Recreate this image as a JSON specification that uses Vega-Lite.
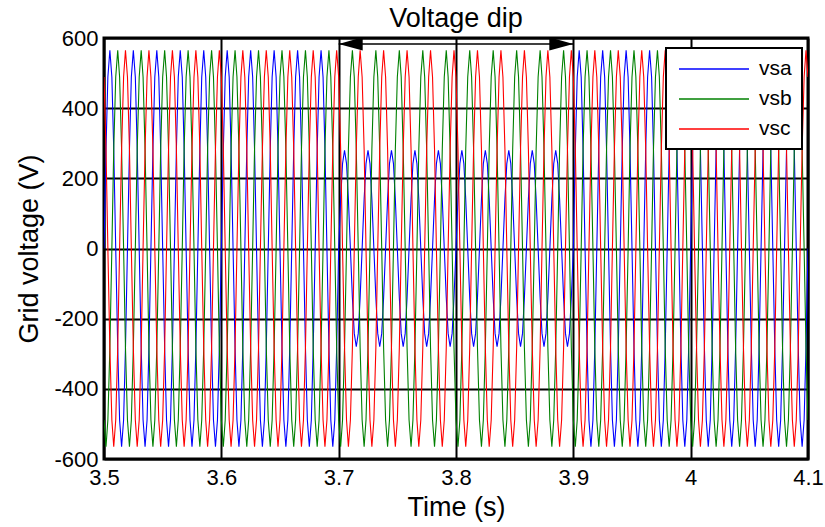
{
"$schema":"https://vega.github.io/schema/vega-lite/v6.json",
"width":704,"height":421,
"autosize":{"type":"none"},
"padding":{"left":104,"top":38,"right":17,"bottom":68},
"background":"white",
"title":{"text":"Voltage dip","fontSize":27,"font":"Liberation Sans","fontWeight":"normal","color":"black","anchor":"middle","offset":-6},
"config":{
 "view":{"stroke":"black","strokeWidth":3},
 "axis":{"grid":true,"gridColor":"black","gridWidth":2,"gridOpacity":1,"domain":false,"ticks":false,"labelFont":"Liberation Sans","labelFontSize":22,"labelColor":"black","titleFont":"Liberation Sans","titleFontSize":27,"titleFontWeight":"normal","titleColor":"black","zindex":1,"labelFlush":false,"labelOverlap":false,"labelBound":false,"labelExpr":"'' + datum.value"},
 "legend":{"orient":"none","legendX":562,"legendY":10,"title":null,"symbolType":"M-0.8,0H6.2","symbolSize":400,"symbolStrokeWidth":1.3,"labelFontSize":21,"labelFont":"Liberation Sans","labelColor":"black","labelOffset":61,"padding":10,"rowPadding":9,"strokeColor":"black","strokeWidth":2,"fillColor":"white","zindex":2}
},
"layer":[
{"data":{"values":[
{"t":3.5,"a":0,"b":-489,"c":489},{"t":3.5017,"a":283,"b":-565,"c":283},{"t":3.5033,"a":489,"b":-489,"c":0},{"t":3.505,"a":565,"b":-283,"c":-283},{"t":3.5067,"a":489,"b":0,"c":-489},{"t":3.5083,"a":283,"b":283,"c":-565},{"t":3.51,"a":0,"b":489,"c":-489},{"t":3.5117,"a":-283,"b":565,"c":-283},{"t":3.5133,"a":-489,"b":489,"c":0},{"t":3.515,"a":-565,"b":283,"c":283},{"t":3.5167,"a":-489,"b":0,"c":489},{"t":3.5183,"a":-283,"b":-283,"c":565},
{"t":3.52,"a":0,"b":-489,"c":489},{"t":3.5217,"a":283,"b":-565,"c":283},{"t":3.5233,"a":489,"b":-489,"c":0},{"t":3.525,"a":565,"b":-283,"c":-283},{"t":3.5267,"a":489,"b":0,"c":-489},{"t":3.5283,"a":283,"b":283,"c":-565},{"t":3.53,"a":0,"b":489,"c":-489},{"t":3.5317,"a":-283,"b":565,"c":-283},{"t":3.5333,"a":-489,"b":489,"c":0},{"t":3.535,"a":-565,"b":283,"c":283},{"t":3.5367,"a":-489,"b":0,"c":489},{"t":3.5383,"a":-283,"b":-283,"c":565},
{"t":3.54,"a":0,"b":-489,"c":489},{"t":3.5417,"a":283,"b":-565,"c":283},{"t":3.5433,"a":489,"b":-489,"c":0},{"t":3.545,"a":565,"b":-283,"c":-283},{"t":3.5467,"a":489,"b":0,"c":-489},{"t":3.5483,"a":283,"b":283,"c":-565},{"t":3.55,"a":0,"b":489,"c":-489},{"t":3.5517,"a":-283,"b":565,"c":-283},{"t":3.5533,"a":-489,"b":489,"c":0},{"t":3.555,"a":-565,"b":283,"c":283},{"t":3.5567,"a":-489,"b":0,"c":489},{"t":3.5583,"a":-283,"b":-283,"c":565},
{"t":3.56,"a":0,"b":-489,"c":489},{"t":3.5617,"a":283,"b":-565,"c":283},{"t":3.5633,"a":489,"b":-489,"c":0},{"t":3.565,"a":565,"b":-283,"c":-283},{"t":3.5667,"a":489,"b":0,"c":-489},{"t":3.5683,"a":283,"b":283,"c":-565},{"t":3.57,"a":0,"b":489,"c":-489},{"t":3.5717,"a":-283,"b":565,"c":-283},{"t":3.5733,"a":-489,"b":489,"c":0},{"t":3.575,"a":-565,"b":283,"c":283},{"t":3.5767,"a":-489,"b":0,"c":489},{"t":3.5783,"a":-283,"b":-283,"c":565},
{"t":3.58,"a":0,"b":-489,"c":489},{"t":3.5817,"a":283,"b":-565,"c":283},{"t":3.5833,"a":489,"b":-489,"c":0},{"t":3.585,"a":565,"b":-283,"c":-283},{"t":3.5867,"a":489,"b":0,"c":-489},{"t":3.5883,"a":283,"b":283,"c":-565},{"t":3.59,"a":0,"b":489,"c":-489},{"t":3.5917,"a":-283,"b":565,"c":-283},{"t":3.5933,"a":-489,"b":489,"c":0},{"t":3.595,"a":-565,"b":283,"c":283},{"t":3.5967,"a":-489,"b":0,"c":489},{"t":3.5983,"a":-283,"b":-283,"c":565},
{"t":3.6,"a":0,"b":-489,"c":489},{"t":3.6017,"a":283,"b":-565,"c":283},{"t":3.6033,"a":489,"b":-489,"c":0},{"t":3.605,"a":565,"b":-283,"c":-283},{"t":3.6067,"a":489,"b":0,"c":-489},{"t":3.6083,"a":283,"b":283,"c":-565},{"t":3.61,"a":0,"b":489,"c":-489},{"t":3.6117,"a":-283,"b":565,"c":-283},{"t":3.6133,"a":-489,"b":489,"c":0},{"t":3.615,"a":-565,"b":283,"c":283},{"t":3.6167,"a":-489,"b":0,"c":489},{"t":3.6183,"a":-283,"b":-283,"c":565},
{"t":3.62,"a":0,"b":-489,"c":489},{"t":3.6217,"a":283,"b":-565,"c":283},{"t":3.6233,"a":489,"b":-489,"c":0},{"t":3.625,"a":565,"b":-283,"c":-283},{"t":3.6267,"a":489,"b":0,"c":-489},{"t":3.6283,"a":283,"b":283,"c":-565},{"t":3.63,"a":0,"b":489,"c":-489},{"t":3.6317,"a":-283,"b":565,"c":-283},{"t":3.6333,"a":-489,"b":489,"c":0},{"t":3.635,"a":-565,"b":283,"c":283},{"t":3.6367,"a":-489,"b":0,"c":489},{"t":3.6383,"a":-283,"b":-283,"c":565},
{"t":3.64,"a":0,"b":-489,"c":489},{"t":3.6417,"a":283,"b":-565,"c":283},{"t":3.6433,"a":489,"b":-489,"c":0},{"t":3.645,"a":565,"b":-283,"c":-283},{"t":3.6467,"a":489,"b":0,"c":-489},{"t":3.6483,"a":283,"b":283,"c":-565},{"t":3.65,"a":0,"b":489,"c":-489},{"t":3.6517,"a":-283,"b":565,"c":-283},{"t":3.6533,"a":-489,"b":489,"c":0},{"t":3.655,"a":-565,"b":283,"c":283},{"t":3.6567,"a":-489,"b":0,"c":489},{"t":3.6583,"a":-283,"b":-283,"c":565},
{"t":3.66,"a":0,"b":-489,"c":489},{"t":3.6617,"a":283,"b":-565,"c":283},{"t":3.6633,"a":489,"b":-489,"c":0},{"t":3.665,"a":565,"b":-283,"c":-283},{"t":3.6667,"a":489,"b":0,"c":-489},{"t":3.6683,"a":283,"b":283,"c":-565},{"t":3.67,"a":0,"b":489,"c":-489},{"t":3.6717,"a":-283,"b":565,"c":-283},{"t":3.6733,"a":-489,"b":489,"c":0},{"t":3.675,"a":-565,"b":283,"c":283},{"t":3.6767,"a":-489,"b":0,"c":489},{"t":3.6783,"a":-283,"b":-283,"c":565},
{"t":3.68,"a":0,"b":-489,"c":489},{"t":3.6817,"a":283,"b":-565,"c":283},{"t":3.6833,"a":489,"b":-489,"c":0},{"t":3.685,"a":565,"b":-283,"c":-283},{"t":3.6867,"a":489,"b":0,"c":-489},{"t":3.6883,"a":283,"b":283,"c":-565},{"t":3.69,"a":0,"b":489,"c":-489},{"t":3.6917,"a":-283,"b":565,"c":-283},{"t":3.6933,"a":-489,"b":489,"c":0},{"t":3.695,"a":-565,"b":283,"c":283},{"t":3.6967,"a":-489,"b":0,"c":489},{"t":3.6983,"a":-283,"b":-283,"c":565},
{"t":3.7,"a":0,"b":-489,"c":489},{"t":3.7017,"a":140,"b":-565,"c":283},{"t":3.7033,"a":242,"b":-489,"c":0},{"t":3.705,"a":280,"b":-283,"c":-283},{"t":3.7067,"a":242,"b":0,"c":-489},{"t":3.7083,"a":140,"b":283,"c":-565},{"t":3.71,"a":0,"b":489,"c":-489},{"t":3.7117,"a":-140,"b":565,"c":-283},{"t":3.7133,"a":-242,"b":489,"c":0},{"t":3.715,"a":-280,"b":283,"c":283},{"t":3.7167,"a":-242,"b":0,"c":489},{"t":3.7183,"a":-140,"b":-283,"c":565},
{"t":3.72,"a":0,"b":-489,"c":489},{"t":3.7217,"a":140,"b":-565,"c":283},{"t":3.7233,"a":242,"b":-489,"c":0},{"t":3.725,"a":280,"b":-283,"c":-283},{"t":3.7267,"a":242,"b":0,"c":-489},{"t":3.7283,"a":140,"b":283,"c":-565},{"t":3.73,"a":0,"b":489,"c":-489},{"t":3.7317,"a":-140,"b":565,"c":-283},{"t":3.7333,"a":-242,"b":489,"c":0},{"t":3.735,"a":-280,"b":283,"c":283},{"t":3.7367,"a":-242,"b":0,"c":489},{"t":3.7383,"a":-140,"b":-283,"c":565},
{"t":3.74,"a":0,"b":-489,"c":489},{"t":3.7417,"a":140,"b":-565,"c":283},{"t":3.7433,"a":242,"b":-489,"c":0},{"t":3.745,"a":280,"b":-283,"c":-283},{"t":3.7467,"a":242,"b":0,"c":-489},{"t":3.7483,"a":140,"b":283,"c":-565},{"t":3.75,"a":0,"b":489,"c":-489},{"t":3.7517,"a":-140,"b":565,"c":-283},{"t":3.7533,"a":-242,"b":489,"c":0},{"t":3.755,"a":-280,"b":283,"c":283},{"t":3.7567,"a":-242,"b":0,"c":489},{"t":3.7583,"a":-140,"b":-283,"c":565},
{"t":3.76,"a":0,"b":-489,"c":489},{"t":3.7617,"a":140,"b":-565,"c":283},{"t":3.7633,"a":242,"b":-489,"c":0},{"t":3.765,"a":280,"b":-283,"c":-283},{"t":3.7667,"a":242,"b":0,"c":-489},{"t":3.7683,"a":140,"b":283,"c":-565},{"t":3.77,"a":0,"b":489,"c":-489},{"t":3.7717,"a":-140,"b":565,"c":-283},{"t":3.7733,"a":-242,"b":489,"c":0},{"t":3.775,"a":-280,"b":283,"c":283},{"t":3.7767,"a":-242,"b":0,"c":489},{"t":3.7783,"a":-140,"b":-283,"c":565},
{"t":3.78,"a":0,"b":-489,"c":489},{"t":3.7817,"a":140,"b":-565,"c":283},{"t":3.7833,"a":242,"b":-489,"c":0},{"t":3.785,"a":280,"b":-283,"c":-283},{"t":3.7867,"a":242,"b":0,"c":-489},{"t":3.7883,"a":140,"b":283,"c":-565},{"t":3.79,"a":0,"b":489,"c":-489},{"t":3.7917,"a":-140,"b":565,"c":-283},{"t":3.7933,"a":-242,"b":489,"c":0},{"t":3.795,"a":-280,"b":283,"c":283},{"t":3.7967,"a":-242,"b":0,"c":489},{"t":3.7983,"a":-140,"b":-283,"c":565},
{"t":3.8,"a":0,"b":-489,"c":489},{"t":3.8017,"a":140,"b":-565,"c":283},{"t":3.8033,"a":242,"b":-489,"c":0},{"t":3.805,"a":280,"b":-283,"c":-283},{"t":3.8067,"a":242,"b":0,"c":-489},{"t":3.8083,"a":140,"b":283,"c":-565},{"t":3.81,"a":0,"b":489,"c":-489},{"t":3.8117,"a":-140,"b":565,"c":-283},{"t":3.8133,"a":-242,"b":489,"c":0},{"t":3.815,"a":-280,"b":283,"c":283},{"t":3.8167,"a":-242,"b":0,"c":489},{"t":3.8183,"a":-140,"b":-283,"c":565},
{"t":3.82,"a":0,"b":-489,"c":489},{"t":3.8217,"a":140,"b":-565,"c":283},{"t":3.8233,"a":242,"b":-489,"c":0},{"t":3.825,"a":280,"b":-283,"c":-283},{"t":3.8267,"a":242,"b":0,"c":-489},{"t":3.8283,"a":140,"b":283,"c":-565},{"t":3.83,"a":0,"b":489,"c":-489},{"t":3.8317,"a":-140,"b":565,"c":-283},{"t":3.8333,"a":-242,"b":489,"c":0},{"t":3.835,"a":-280,"b":283,"c":283},{"t":3.8367,"a":-242,"b":0,"c":489},{"t":3.8383,"a":-140,"b":-283,"c":565},
{"t":3.84,"a":0,"b":-489,"c":489},{"t":3.8417,"a":140,"b":-565,"c":283},{"t":3.8433,"a":242,"b":-489,"c":0},{"t":3.845,"a":280,"b":-283,"c":-283},{"t":3.8467,"a":242,"b":0,"c":-489},{"t":3.8483,"a":140,"b":283,"c":-565},{"t":3.85,"a":0,"b":489,"c":-489},{"t":3.8517,"a":-140,"b":565,"c":-283},{"t":3.8533,"a":-242,"b":489,"c":0},{"t":3.855,"a":-280,"b":283,"c":283},{"t":3.8567,"a":-242,"b":0,"c":489},{"t":3.8583,"a":-140,"b":-283,"c":565},
{"t":3.86,"a":0,"b":-489,"c":489},{"t":3.8617,"a":140,"b":-565,"c":283},{"t":3.8633,"a":242,"b":-489,"c":0},{"t":3.865,"a":280,"b":-283,"c":-283},{"t":3.8667,"a":242,"b":0,"c":-489},{"t":3.8683,"a":140,"b":283,"c":-565},{"t":3.87,"a":0,"b":489,"c":-489},{"t":3.8717,"a":-140,"b":565,"c":-283},{"t":3.8733,"a":-242,"b":489,"c":0},{"t":3.875,"a":-280,"b":283,"c":283},{"t":3.8767,"a":-242,"b":0,"c":489},{"t":3.8783,"a":-140,"b":-283,"c":565},
{"t":3.88,"a":0,"b":-489,"c":489},{"t":3.8817,"a":140,"b":-565,"c":283},{"t":3.8833,"a":242,"b":-489,"c":0},{"t":3.885,"a":280,"b":-283,"c":-283},{"t":3.8867,"a":242,"b":0,"c":-489},{"t":3.8883,"a":140,"b":283,"c":-565},{"t":3.89,"a":0,"b":489,"c":-489},{"t":3.8917,"a":-140,"b":565,"c":-283},{"t":3.8933,"a":-242,"b":489,"c":0},{"t":3.895,"a":-280,"b":283,"c":283},{"t":3.8967,"a":-242,"b":0,"c":489},{"t":3.8983,"a":-140,"b":-283,"c":565},
{"t":3.9,"a":0,"b":-489,"c":489},{"t":3.9017,"a":283,"b":-565,"c":283},{"t":3.9033,"a":489,"b":-489,"c":0},{"t":3.905,"a":565,"b":-283,"c":-283},{"t":3.9067,"a":489,"b":0,"c":-489},{"t":3.9083,"a":283,"b":283,"c":-565},{"t":3.91,"a":0,"b":489,"c":-489},{"t":3.9117,"a":-283,"b":565,"c":-283},{"t":3.9133,"a":-489,"b":489,"c":0},{"t":3.915,"a":-565,"b":283,"c":283},{"t":3.9167,"a":-489,"b":0,"c":489},{"t":3.9183,"a":-283,"b":-283,"c":565},
{"t":3.92,"a":0,"b":-489,"c":489},{"t":3.9217,"a":283,"b":-565,"c":283},{"t":3.9233,"a":489,"b":-489,"c":0},{"t":3.925,"a":565,"b":-283,"c":-283},{"t":3.9267,"a":489,"b":0,"c":-489},{"t":3.9283,"a":283,"b":283,"c":-565},{"t":3.93,"a":0,"b":489,"c":-489},{"t":3.9317,"a":-283,"b":565,"c":-283},{"t":3.9333,"a":-489,"b":489,"c":0},{"t":3.935,"a":-565,"b":283,"c":283},{"t":3.9367,"a":-489,"b":0,"c":489},{"t":3.9383,"a":-283,"b":-283,"c":565},
{"t":3.94,"a":0,"b":-489,"c":489},{"t":3.9417,"a":283,"b":-565,"c":283},{"t":3.9433,"a":489,"b":-489,"c":0},{"t":3.945,"a":565,"b":-283,"c":-283},{"t":3.9467,"a":489,"b":0,"c":-489},{"t":3.9483,"a":283,"b":283,"c":-565},{"t":3.95,"a":0,"b":489,"c":-489},{"t":3.9517,"a":-283,"b":565,"c":-283},{"t":3.9533,"a":-489,"b":489,"c":0},{"t":3.955,"a":-565,"b":283,"c":283},{"t":3.9567,"a":-489,"b":0,"c":489},{"t":3.9583,"a":-283,"b":-283,"c":565},
{"t":3.96,"a":0,"b":-489,"c":489},{"t":3.9617,"a":283,"b":-565,"c":283},{"t":3.9633,"a":489,"b":-489,"c":0},{"t":3.965,"a":565,"b":-283,"c":-283},{"t":3.9667,"a":489,"b":0,"c":-489},{"t":3.9683,"a":283,"b":283,"c":-565},{"t":3.97,"a":0,"b":489,"c":-489},{"t":3.9717,"a":-283,"b":565,"c":-283},{"t":3.9733,"a":-489,"b":489,"c":0},{"t":3.975,"a":-565,"b":283,"c":283},{"t":3.9767,"a":-489,"b":0,"c":489},{"t":3.9783,"a":-283,"b":-283,"c":565},
{"t":3.98,"a":0,"b":-489,"c":489},{"t":3.9817,"a":283,"b":-565,"c":283},{"t":3.9833,"a":489,"b":-489,"c":0},{"t":3.985,"a":565,"b":-283,"c":-283},{"t":3.9867,"a":489,"b":0,"c":-489},{"t":3.9883,"a":283,"b":283,"c":-565},{"t":3.99,"a":0,"b":489,"c":-489},{"t":3.9917,"a":-283,"b":565,"c":-283},{"t":3.9933,"a":-489,"b":489,"c":0},{"t":3.995,"a":-565,"b":283,"c":283},{"t":3.9967,"a":-489,"b":0,"c":489},{"t":3.9983,"a":-283,"b":-283,"c":565},
{"t":4,"a":0,"b":-489,"c":489},{"t":4.0017,"a":283,"b":-565,"c":283},{"t":4.0033,"a":489,"b":-489,"c":0},{"t":4.005,"a":565,"b":-283,"c":-283},{"t":4.0067,"a":489,"b":0,"c":-489},{"t":4.0083,"a":283,"b":283,"c":-565},{"t":4.01,"a":0,"b":489,"c":-489},{"t":4.0117,"a":-283,"b":565,"c":-283},{"t":4.0133,"a":-489,"b":489,"c":0},{"t":4.015,"a":-565,"b":283,"c":283},{"t":4.0167,"a":-489,"b":0,"c":489},{"t":4.0183,"a":-283,"b":-283,"c":565},
{"t":4.02,"a":0,"b":-489,"c":489},{"t":4.0217,"a":283,"b":-565,"c":283},{"t":4.0233,"a":489,"b":-489,"c":0},{"t":4.025,"a":565,"b":-283,"c":-283},{"t":4.0267,"a":489,"b":0,"c":-489},{"t":4.0283,"a":283,"b":283,"c":-565},{"t":4.03,"a":0,"b":489,"c":-489},{"t":4.0317,"a":-283,"b":565,"c":-283},{"t":4.0333,"a":-489,"b":489,"c":0},{"t":4.035,"a":-565,"b":283,"c":283},{"t":4.0367,"a":-489,"b":0,"c":489},{"t":4.0383,"a":-283,"b":-283,"c":565},
{"t":4.04,"a":0,"b":-489,"c":489},{"t":4.0417,"a":283,"b":-565,"c":283},{"t":4.0433,"a":489,"b":-489,"c":0},{"t":4.045,"a":565,"b":-283,"c":-283},{"t":4.0467,"a":489,"b":0,"c":-489},{"t":4.0483,"a":283,"b":283,"c":-565},{"t":4.05,"a":0,"b":489,"c":-489},{"t":4.0517,"a":-283,"b":565,"c":-283},{"t":4.0533,"a":-489,"b":489,"c":0},{"t":4.055,"a":-565,"b":283,"c":283},{"t":4.0567,"a":-489,"b":0,"c":489},{"t":4.0583,"a":-283,"b":-283,"c":565},
{"t":4.06,"a":0,"b":-489,"c":489},{"t":4.0617,"a":283,"b":-565,"c":283},{"t":4.0633,"a":489,"b":-489,"c":0},{"t":4.065,"a":565,"b":-283,"c":-283},{"t":4.0667,"a":489,"b":0,"c":-489},{"t":4.0683,"a":283,"b":283,"c":-565},{"t":4.07,"a":0,"b":489,"c":-489},{"t":4.0717,"a":-283,"b":565,"c":-283},{"t":4.0733,"a":-489,"b":489,"c":0},{"t":4.075,"a":-565,"b":283,"c":283},{"t":4.0767,"a":-489,"b":0,"c":489},{"t":4.0783,"a":-283,"b":-283,"c":565},
{"t":4.08,"a":0,"b":-489,"c":489},{"t":4.0817,"a":283,"b":-565,"c":283},{"t":4.0833,"a":489,"b":-489,"c":0},{"t":4.085,"a":565,"b":-283,"c":-283},{"t":4.0867,"a":489,"b":0,"c":-489},{"t":4.0883,"a":283,"b":283,"c":-565},{"t":4.09,"a":0,"b":489,"c":-489},{"t":4.0917,"a":-283,"b":565,"c":-283},{"t":4.0933,"a":-489,"b":489,"c":0},{"t":4.095,"a":-565,"b":283,"c":283},{"t":4.0967,"a":-489,"b":0,"c":489},{"t":4.0983,"a":-283,"b":-283,"c":565},
{"t":4.1,"a":0,"b":-489,"c":489}
]},
"transform":[{"fold":["a","b","c"],"as":["s","v"]}],
"mark":{"type":"line","strokeWidth":1.1,"clip":true},
"encoding":{
 "x":{"field":"t","type":"quantitative","scale":{"domain":[3.5,4.1],"nice":false,"zero":false},"axis":{"values":[3.5,3.6,3.7,3.8,3.9,4,4.1],"labelPadding":8,"titlePadding":6},"title":"Time (s)"},
 "y":{"field":"v","type":"quantitative","scale":{"domain":[-600,600],"nice":false},"axis":{"values":[-600,-400,-200,0,200,400,600],"labelPadding":6,"titlePadding":10},"title":"Grid voltage (V)"},
 "color":{"field":"s","type":"nominal","scale":{"domain":["a","b","c"],"range":["#0000ff","#008000","#ff0000"]},"legend":{"labelExpr":"'vs' + datum.label"}}
}},
{"data":{"values":[{"x1":3.7,"x2":3.9,"y":583}]},
"mark":{"type":"rule","color":"black","strokeWidth":1.5},
"encoding":{"x":{"field":"x1","type":"quantitative","title":"Time (s)"},"x2":{"field":"x2"},"y":{"field":"y","type":"quantitative","title":"Grid voltage (V)"}}},
{"data":{"values":[{"x":3.7,"y":583}]},
"mark":{"type":"point","shape":"M0,0L2,-0.55L2,0.55Z","filled":true,"size":576,"color":"black","opacity":1},
"encoding":{"x":{"field":"x","type":"quantitative","title":"Time (s)"},"y":{"field":"y","type":"quantitative","title":"Grid voltage (V)"}}},
{"data":{"values":[{"x":3.9,"y":583}]},
"mark":{"type":"point","shape":"M0,0L-2,-0.55L-2,0.55Z","filled":true,"size":576,"color":"black","opacity":1},
"encoding":{"x":{"field":"x","type":"quantitative","title":"Time (s)"},"y":{"field":"y","type":"quantitative","title":"Grid voltage (V)"}}}
]
}
